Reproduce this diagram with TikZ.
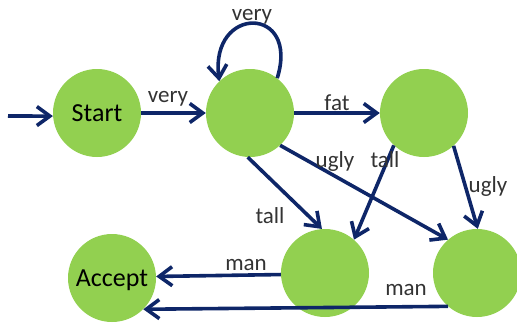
\documentclass[tikz,border=0pt]{standalone}
\usepackage{fontspec}
\setmainfont{Carlito}
\usetikzlibrary{arrows.meta}
\definecolor{stgreen}{RGB}{146,208,80}
\definecolor{arrblue}{RGB}{14,38,104}
\begin{document}
\begin{tikzpicture}[x=1pt,y=-1pt,
  state/.style={circle,fill=stgreen,draw=none,minimum size=88pt,inner sep=0pt,font=\fontsize{26}{26}\selectfont,text depth=0pt},
  arr/.style={draw=arrblue,line width=3.6pt,-{Straight Barb[length=13pt,width=19pt,line width=3.6pt]}},
  lbl/.style={font=\fontsize{23}{23}\selectfont,text=black!80,anchor=base,inner sep=0pt}]
\useasboundingbox (0,0) rectangle (517,325);
\node[state] (start) at (97,113) {Start};
\node[state] (q1) at (250,113) {};
\node[state] (q2) at (424,113) {};
\node[state] (accept) at (112,278) {Accept};
\node[state] (q3) at (325,273) {};
\node[state] (q4) at (477,273) {};
\coordinate (in) at (8,116);
\draw[arr] (in) -- (start.184);
\draw[arr] (start.east) -- (q1.west);
\draw[arr] (q1.52) .. controls (300,5) and (210,5) .. (q1.134);
\draw[arr] (q1.east) -- (q2.west);
\draw[arr] (q1.-93) -- (q3.94);
\draw[arr] (q1.-47) -- (q4.131);
\draw[arr] (q2.227) -- (q3.49);
\draw[arr] (q2.-48) -- (q4.89);
\draw[arr] (q3.182) -- (accept.2);
\draw[arr] (q4.229) -- (accept.-45);
\node[lbl] (l1) at (168,102) {very};
\node[lbl] (l2) at (252,20) {very};
\node[lbl] (l3) at (337,110) {fat};
\node[lbl] (l4) at (335,167) {ugly};
\node[lbl] (l5) at (385,167) {tall};
\node[lbl] (l6) at (270,223) {tall};
\node[lbl] (l7) at (488,192) {ugly};
\node[lbl] (l8) at (246,270) {man};
\node[lbl] (l9) at (406,295) {man};
\end{tikzpicture}
\end{document}
